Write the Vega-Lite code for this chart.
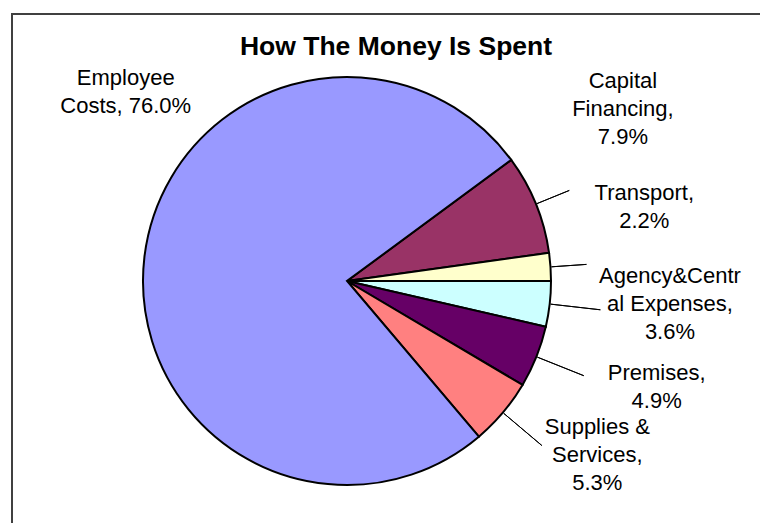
{
  "$schema": "https://vega.github.io/schema/vega-lite/v6.json",
  "padding": {"left": 11, "top": 13, "right": 0, "bottom": 0},
  "background": "white",
  "spacing": 0,
  "bounds": "flush",
  "config": {"font": "Liberation Sans"},
  "datasets": {
    "spend": [
      {"category": "Capital Financing", "label": "Capital\nFinancing,\n7.9%", "pct": 7.9, "order": 1},
      {"category": "Transport", "label": "Transport,\n2.2%", "pct": 2.2, "order": 2},
      {"category": "Agency&Central Expenses", "label": "Agency&Centr\nal Expenses,\n3.6%", "pct": 3.6, "order": 3},
      {"category": "Premises", "label": "Premises,\n4.9%", "pct": 4.9, "order": 4},
      {"category": "Supplies & Services", "label": "Supplies &\nServices,\n5.3%", "pct": 5.3, "order": 5},
      {"category": "Employee Costs", "label": "Employee\nCosts, 76.0%", "pct": 76.0, "order": 6}
    ]
  },
  "hconcat": [
    {
      "width": 670,
      "height": 534,
      "view": {"stroke": "#404040", "strokeWidth": 2, "strokeDash": [670, 1204, 534]},
      "title": {
        "text": "How The Money Is Spent",
        "font": "Liberation Sans",
        "fontSize": 26.5,
        "fontWeight": "bold",
        "color": "#000000",
        "orient": "none",
        "anchor": "start",
        "align": "center",
        "baseline": "alphabetic",
        "dx": 384,
        "dy": 41
      },
      "data": {"name": "spend"},
      "encoding": {
        "theta": {"field": "pct", "type": "quantitative", "stack": true, "scale": {"range": [0.9355, 7.2187]}},
        "order": {"field": "order", "type": "quantitative", "sort": "ascending"}
      },
      "layer": [
        {
          "mark": {"type": "arc", "radius": 204, "stroke": "#000000", "strokeWidth": 2},
          "encoding": {
            "color": {
              "field": "category",
              "type": "nominal",
              "scale": {
                "domain": ["Capital Financing", "Transport", "Agency&Central Expenses", "Premises", "Supplies & Services", "Employee Costs"],
                "range": ["#993366", "#FFFFCC", "#CCFFFF", "#660066", "#FF8080", "#9999FF"]
              },
              "legend": null
            }
          }
        },
        {
          "mark": {"type": "arc", "radius": 240, "radius2": 205, "padAngle": 2.2, "filled": false, "stroke": "#000000", "strokeWidth": 1},
          "encoding": {
            "strokeOpacity": {"condition": {"test": "datum.category === 'Capital Financing' || datum.category === 'Transport'", "value": 1}, "value": 0}
          }
        },
        {
          "mark": {"type": "arc", "radius": 255, "radius2": 205, "padAngle": 2.2, "filled": false, "stroke": "#000000", "strokeWidth": 1},
          "encoding": {
            "strokeOpacity": {"condition": {"test": "datum.category === 'Agency&Central Expenses' || datum.category === 'Premises' || datum.category === 'Supplies & Services'", "value": 1}, "value": 0}
          }
        },
        {
          "mark": {"type": "text", "radius": 325, "thetaOffset": -0.170, "dy": -28.4, "lineBreak": "\n", "fontSize": 22, "lineHeight": 28, "font": "Liberation Sans", "align": "center", "baseline": "middle", "color": "#000000"},
          "encoding": {"text": {"condition": {"test": "datum.category === 'Capital Financing'", "field": "label"}, "value": ""}}
        },
        {
          "mark": {"type": "text", "radius": 310, "thetaOffset": -0.218, "lineBreak": "\n", "fontSize": 22, "lineHeight": 28, "font": "Liberation Sans", "align": "center", "baseline": "middle", "color": "#000000"},
          "encoding": {"text": {"condition": {"test": "datum.category === 'Transport'", "field": "label"}, "value": ""}}
        },
        {
          "mark": {"type": "text", "radius": 323, "thetaOffset": -0.129, "lineBreak": "\n", "fontSize": 22, "lineHeight": 28, "font": "Liberation Sans", "align": "center", "baseline": "middle", "color": "#000000"},
          "encoding": {"text": {"condition": {"test": "datum.category === 'Agency&Central Expenses'", "field": "label"}, "value": ""}}
        },
        {
          "mark": {"type": "text", "radius": 323, "thetaOffset": -0.092, "lineBreak": "\n", "fontSize": 22, "lineHeight": 28, "font": "Liberation Sans", "align": "center", "baseline": "middle", "color": "#000000"},
          "encoding": {"text": {"condition": {"test": "datum.category === 'Premises'", "field": "label"}, "value": ""}}
        },
        {
          "mark": {"type": "text", "radius": 290, "thetaOffset": -0.172, "lineBreak": "\n", "fontSize": 22, "lineHeight": 28, "font": "Liberation Sans", "align": "center", "baseline": "middle", "color": "#000000"},
          "encoding": {"text": {"condition": {"test": "datum.category === 'Supplies & Services'", "field": "label"}, "value": ""}}
        },
        {
          "mark": {"type": "text", "radius": 300, "thetaOffset": 0.625, "lineBreak": "\n", "fontSize": 22, "lineHeight": 28, "font": "Liberation Sans", "align": "center", "baseline": "middle", "color": "#000000"},
          "encoding": {"text": {"condition": {"test": "datum.category === 'Employee Costs'", "field": "label"}, "value": ""}}
        }
      ]
    },
    {
      "width": 100,
      "height": 534,
      "view": {"stroke": "#404040", "strokeWidth": 2, "strokeDash": [100, 2000]},
      "data": {"name": "spend"},
      "mark": {"type": "text", "text": ""},
      "encoding": {}
    }
  ]
}
